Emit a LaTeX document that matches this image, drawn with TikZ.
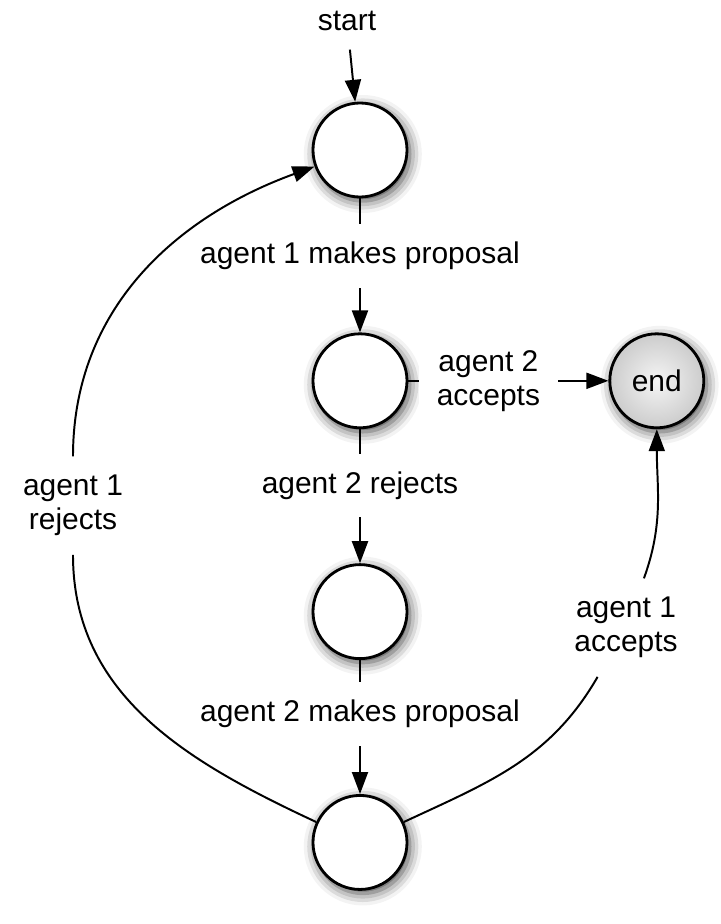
\documentclass[tikz,border=0pt]{standalone}
\usepackage{fontspec}
\setmainfont{Liberation Sans}
\usepackage{tikz}
\usetikzlibrary{positioning,arrows.meta,shadows.blur}

\begin{document}
\begin{tikzpicture}[
  font=\fontsize{21.3}{24}\selectfont, >={Triangle[length=5.5mm,width=4mm]},
  line width=1.4pt, node distance=3.35cm,
  st/.style={draw, circle, fill=white, line width=2pt, minimum size=23.5mm,
             inner sep=0pt, blur shadow={shadow xshift=0.7mm, shadow yshift=-1mm,
             shadow blur radius=3mm, shadow opacity=75}},
  fin/.style={st, inner color=black!4, outer color=black!20},
  lbl/.style={fill=white, inner sep=4.5mm, align=center}]

\useasboundingbox (-9,3.75) rectangle (9,-19.35);

\node[st] (s1) at (0,0) {};
\node[st, below=of s1] (s2) {};
\node[st, below=of s2] (s3) {};
\node[st, below=of s3] (s4) {};
\node[fin, right=5cm of s2] (end) {end};

\node[lbl, above=1.3cm of s1, xshift=-3.25mm] (start) {start};
\node[lbl] (rej) at ([xshift=-71.75mm, yshift=26.5mm]s3) {agent 1\\rejects};
\node[lbl] (acc) at ([xshift=66.5mm, yshift=-4mm]s3) {agent 1\\accepts};

% main line
\draw[->] (start) -- (s1);
\draw[->] (s1) -- node[lbl, pos=0.43] {agent 1 makes proposal} (s2);
\draw[->] (s2) -- node[lbl, pos=0.42] {agent 2 rejects} (s3);
\draw[->] (s3) -- node[lbl, pos=0.4] {agent 2 makes proposal} (s4);
\draw[->] (s2) -- node[lbl, pos=0.4] {agent 2\\accepts} (end);
% back to the start, or out to the end
\draw (s4) to[out=155,in=-90] (rej);
\draw[->] (rej) to[out=90,in=200] (s1);
\draw (s4) to[out=25,in=-120] (acc);
\draw[->] (acc) to[out=70,in=-90] (end);
\end{tikzpicture}
\end{document}
